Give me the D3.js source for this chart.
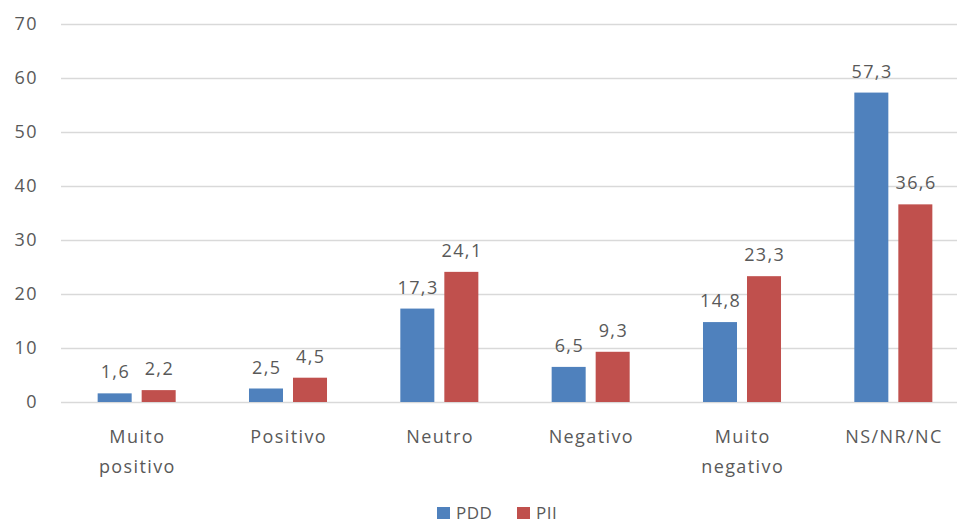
<!DOCTYPE html>
<html>
<head>
<meta charset="utf-8">
<script src="https://cdn.jsdelivr.net/npm/d3@7"></script>
<style>
  html, body { margin: 0; padding: 0; background: #fff; overflow: hidden; }
  svg { display: block; font-family: "Open Sans", sans-serif; }
</style>
</head>
<body>
<svg id="chart" width="957" height="526"></svg>
<script>
// Categories (x axis), multi-line labels split on "\n"
const categories = ["Muito\npositivo", "Positivo", "Neutro", "Negativo", "Muito\nnegativo", "NS/NR/NC"];
const seriesNames = ["PDD", "PII"];
const pddValues = [1.6, 2.5, 17.3, 6.5, 14.8, 57.3];
const piiValues = [2.2, 4.5, 24.1, 9.3, 23.3, 36.6];
const yTicks = [0, 10, 20, 30, 40, 50, 60, 70];
const colors = ["#4f81bd", "#c0504d"];

const svg = d3.select("#chart");
const textColor = "#595959";
const spacing = "1.4px";

const x = d3.scaleBand().domain(d3.range(categories.length)).range([61, 969]).paddingInner(0).paddingOuter(0);
const y = d3.scaleLinear().domain([0, 70]).range([402, 24]);
const inner = d3.scaleBand().domain(seriesNames).range([0, x.bandwidth()]).paddingInner(0.227).paddingOuter(0.833);

// Horizontal gridlines
svg.append("g")
  .selectAll("line")
  .data(yTicks)
  .join("line")
  .attr("x1", 61).attr("x2", 957)
  .attr("y1", d => Math.round(y(d)) + 0.5)
  .attr("y2", d => Math.round(y(d)) + 0.5)
  .attr("stroke", "#d9d9d9")
  .attr("stroke-width", 1.3);

// Y axis tick labels
const yAxis = d3.axisLeft(y).tickValues(yTicks).tickSize(0).tickPadding(0);
const gy = svg.append("g").attr("transform", "translate(38,0)").call(yAxis);
gy.select(".domain").remove();
gy.selectAll("text")
  .attr("fill", textColor)
  .style("font-size", "18px")
  .style("letter-spacing", spacing)
  .style("font-family", "'Open Sans', sans-serif");

// Bars
const rows = categories.map((c, i) => ({ i, values: [pddValues[i], piiValues[i]] }));
const groups = svg.append("g").selectAll("g")
  .data(rows)
  .join("g")
  .attr("transform", d => `translate(${x(d.i)},0)`);

groups.selectAll("rect")
  .data(d => d.values.map((v, k) => ({ v, k })))
  .join("rect")
  .attr("x", d => inner(seriesNames[d.k]))
  .attr("width", inner.bandwidth())
  .attr("y", d => y(d.v))
  .attr("height", d => y(0) - y(d.v))
  .attr("fill", d => colors[d.k]);

// Value labels
groups.selectAll("text")
  .data(d => d.values.map((v, k) => ({ v, k })))
  .join("text")
  .attr("x", d => inner(seriesNames[d.k]) + inner.bandwidth() / 2 + 0.7)
  .attr("y", d => y(d.v) - 15)
  .attr("text-anchor", "middle")
  .attr("fill", textColor)
  .style("font-size", "18px")
  .style("letter-spacing", spacing)
  .text(d => d.v.toFixed(1).replace(".", ","));

// X axis category labels
const xLabels = svg.append("g").selectAll("text")
  .data(categories)
  .join("text")
  .attr("text-anchor", "middle")
  .attr("fill", textColor)
  .style("font-size", "18px")
  .style("letter-spacing", spacing)
  .attr("transform", (d, i) => `translate(${x(i) + x.bandwidth() / 2 + 0.7},443)`);
xLabels.selectAll("tspan")
  .data(d => d.split("\n"))
  .join("tspan")
  .attr("x", 0)
  .attr("dy", (d, j) => j === 0 ? 0 : 30)
  .text(d => d);

// Legend
const legend = svg.append("g").attr("transform", "translate(437,507)");
const legendX = [0, 80];
const items = legend.selectAll("g")
  .data(seriesNames)
  .join("g")
  .attr("transform", (d, i) => `translate(${legendX[i]},0)`);
items.append("rect")
  .attr("width", 13).attr("height", 12)
  .attr("fill", (d, i) => colors[i]);
items.append("text")
  .attr("x", 19).attr("y", 12)
  .attr("fill", textColor)
  .style("font-size", "17px")
  .style("letter-spacing", "0.5px")
  .text(d => d);
</script>
</body>
</html>
